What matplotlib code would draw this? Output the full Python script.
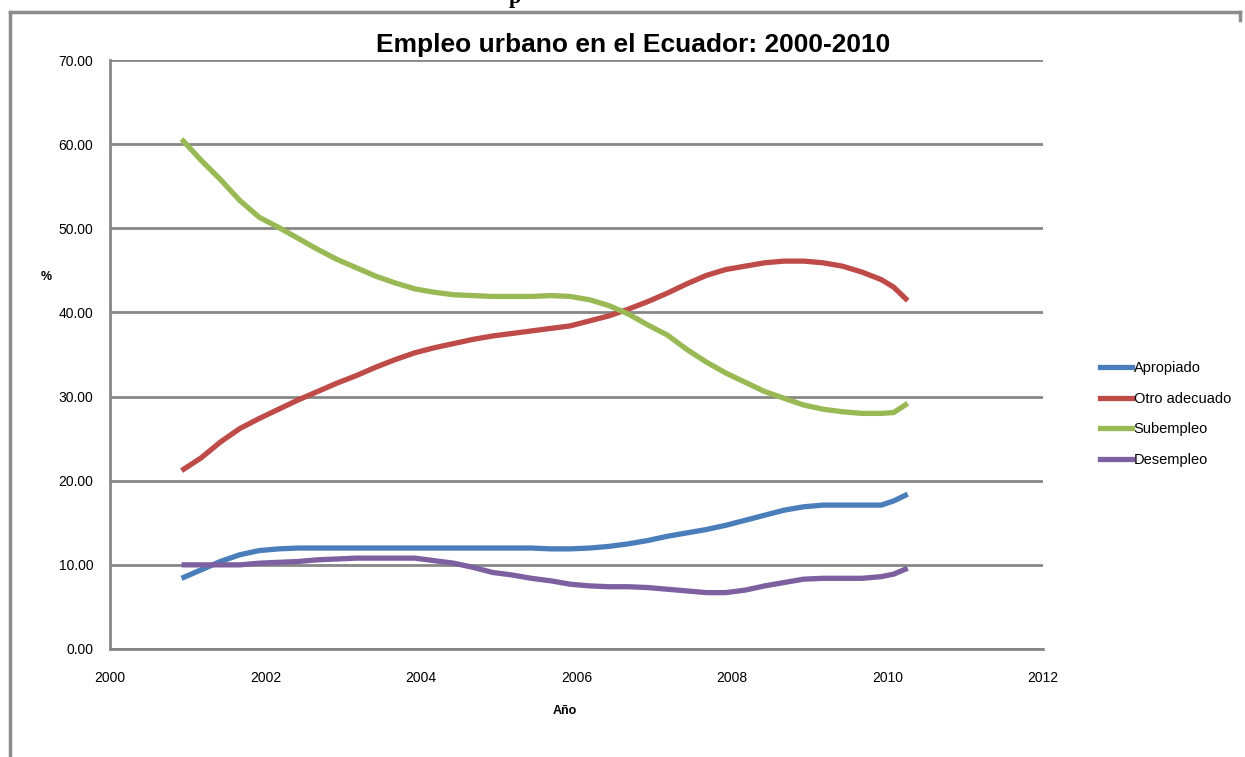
import matplotlib
matplotlib.use("Agg")
import matplotlib.pyplot as plt
from matplotlib.lines import Line2D

# datos (trimestral aprox.)
anios = [2000.92, 2001.17, 2001.42, 2001.67, 2001.92, 2002.17, 2002.42, 2002.67,
         2002.92, 2003.17, 2003.42, 2003.67, 2003.92, 2004.17, 2004.42, 2004.67,
         2004.92, 2005.17, 2005.42, 2005.67, 2005.92, 2006.17, 2006.42, 2006.67,
         2006.92, 2007.17, 2007.42, 2007.67, 2007.92, 2008.17, 2008.42, 2008.67,
         2008.92, 2009.17, 2009.42, 2009.67, 2009.92, 2010.08, 2010.26]

apropiado = [8.4, 9.4, 10.4, 11.2, 11.7, 11.9, 12.0, 12.0,
             12.0, 12.0, 12.0, 12.0, 12.0, 12.0, 12.0, 12.0,
             12.0, 12.0, 12.0, 11.9, 11.9, 12.0, 12.2, 12.5,
             12.9, 13.4, 13.8, 14.2, 14.7, 15.3, 15.9, 16.5,
             16.9, 17.1, 17.1, 17.1, 17.1, 17.6, 18.4]

otro_adecuado = [21.2, 22.7, 24.6, 26.2, 27.4, 28.5, 29.6, 30.6,
                 31.6, 32.5, 33.5, 34.4, 35.2, 35.8, 36.3, 36.8,
                 37.2, 37.5, 37.8, 38.1, 38.4, 39.0, 39.6, 40.4,
                 41.3, 42.3, 43.4, 44.4, 45.1, 45.5, 45.9, 46.1,
                 46.1, 45.9, 45.5, 44.8, 43.9, 43.0, 41.4]

subempleo = [60.6, 58.1, 55.8, 53.3, 51.3, 50.1, 48.8, 47.5,
             46.3, 45.3, 44.3, 43.5, 42.8, 42.4, 42.1, 42.0,
             41.9, 41.9, 41.9, 42.0, 41.9, 41.5, 40.8, 39.8,
             38.5, 37.3, 35.6, 34.1, 32.8, 31.7, 30.6, 29.8,
             29.0, 28.5, 28.2, 28.0, 28.0, 28.1, 29.2]

desempleo = [10.0, 10.0, 10.0, 10.0, 10.2, 10.3, 10.4, 10.6,
             10.7, 10.8, 10.8, 10.8, 10.8, 10.5, 10.2, 9.7,
             9.1, 8.8, 8.4, 8.1, 7.7, 7.5, 7.4, 7.4,
             7.3, 7.1, 6.9, 6.7, 6.7, 7.0, 7.5, 7.9,
             8.3, 8.4, 8.4, 8.4, 8.6, 8.9, 9.6]

series = ["Apropiado", "Otro adecuado", "Subempleo", "Desempleo"]
colores = ["#4a7ebb", "#be4b48", "#98b954", "#7d60a0"]

plt.rcParams['font.family'] = ['Liberation Sans', 'DejaVu Sans']
fig = plt.figure(figsize=(12.45, 7.57), dpi=100)
ax = fig.add_axes([110/1245, 1-649/757, (1043-110)/1245, (649-60)/757])

for datos, nombre, c in zip([apropiado, otro_adecuado, subempleo, desempleo], series, colores):
    ax.plot(anios, datos, color=c, lw=3.8, label=nombre, solid_capstyle='butt')

ax.set_xlim(2000, 2012)
ax.set_ylim(0, 70)
ax.set_xticks(range(2000, 2013, 2))
ax.set_yticks(range(0, 71, 10))
ax.set_yticklabels(["%.2f" % v for v in range(0, 71, 10)])
ax.grid(axis='y', color='#878787', lw=2)
ax.set_axisbelow(True)
for s in ['top', 'right']:
    ax.spines[s].set_visible(False)
for s in ['left', 'bottom']:
    ax.spines[s].set_color('#878787')
    ax.spines[s].set_linewidth(2)
ax.tick_params(length=0, labelsize=10)
ax.tick_params(axis='y', pad=12)
ax.tick_params(axis='x', pad=16)

fig.text(46/1245, 1-277/757, "%", fontsize=9, fontweight='bold', ha='center', va='center')
fig.text(565/1245, 1-711/757, "Año", fontsize=9, fontweight='bold', ha='center', va='center')
fig.text(633/1245, 1-45/757, "Empleo urbano en el Ecuador: 2000-2010", fontsize=19,
         fontweight='bold', ha='center', va='center')

# texto cortado arriba
fig.text(515/1245, 1-3/757, "p", fontsize=16, fontweight='bold', family='Liberation Serif',
         ha='center', va='baseline')

handles = [Line2D([], [], color=c, lw=3.8) for c in colores]
fig.legend(handles, series, loc='center left', bbox_to_anchor=(1087/1245, 1-414/757),
           frameon=False, fontsize=10.5, handlelength=2.2, handletextpad=0.1,
           labelspacing=1.15)

# marco exterior
fig.add_artist(Line2D([10/1245, 10/1245], [0, 1-12/757], color='#8c8c8c', lw=2.5))
fig.add_artist(Line2D([10/1245, 1240/1245], [1-12/757, 1-12/757], color='#8c8c8c', lw=2.5))
fig.add_artist(Line2D([1240/1245, 1240/1245], [1-12/757, 1-20/757], color='#8c8c8c', lw=2.5))

fig.savefig("out.png", dpi=100)
